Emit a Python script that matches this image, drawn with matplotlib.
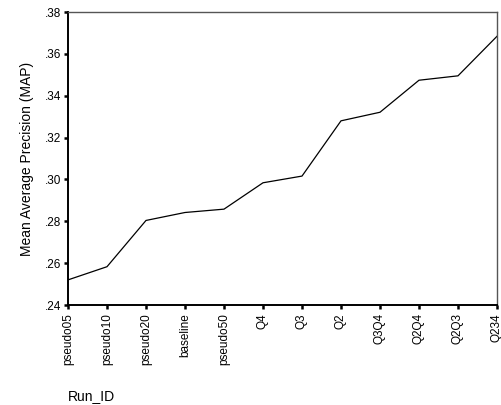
import matplotlib
matplotlib.use("Agg")
import matplotlib.pyplot as plt
from matplotlib.ticker import FuncFormatter

# ── Data ──────────────────────────────────────────────────────────────
run_ids = ["pseudo05", "pseudo10", "pseudo20", "baseline", "pseudo50",
           "Q4", "Q3", "Q2", "Q3Q4", "Q2Q4", "Q2Q3", "Q234"]
map_values = [0.2520, 0.2583, 0.2804, 0.2842, 0.2858,
              0.2984, 0.3016, 0.3280, 0.3321, 0.3474, 0.3495, 0.3684]
y_ticks = [0.24, 0.26, 0.28, 0.30, 0.32, 0.34, 0.36, 0.38]

plt.rcParams["font.family"] = ["Liberation Sans", "DejaVu Sans"]

fig = plt.figure(figsize=(5.02, 4.05), dpi=100)
ax = fig.add_axes([68 / 502, 1 - 305 / 405, (497 - 68) / 502, (305 - 12) / 405])

x = list(range(len(run_ids)))
ax.plot(x, map_values, color="black", linewidth=0.9)

ax.set_xlim(0, len(run_ids) - 1)
ax.set_ylim(0.24, 0.38)
ax.set_xticks(x)
ax.set_xticklabels(run_ids, rotation=90, fontsize=8.5)
ax.set_yticks(y_ticks)
ax.yaxis.set_major_formatter(FuncFormatter(lambda v, p: f"{v:.2f}".lstrip("0")))
ax.tick_params(axis="y", labelsize=8.5, length=3, width=1.8, pad=2)
ax.tick_params(axis="x", length=3, width=1.8, pad=3)

for side in ["left", "bottom"]:
    ax.spines[side].set_color("black")
    ax.spines[side].set_linewidth(1.4)
for side in ["top", "right"]:
    ax.spines[side].set_color("#555555")
    ax.spines[side].set_linewidth(1.0)

ax.set_ylabel("Mean Average Precision (MAP)", fontsize=10, labelpad=8)
fig.text(68 / 502, 1 - 396 / 405, "Run_ID", fontsize=10, va="center", ha="left")

fig.savefig("out.png", dpi=100)
